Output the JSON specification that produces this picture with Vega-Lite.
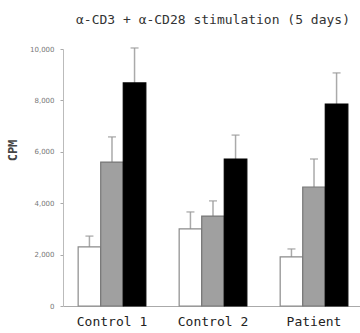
{
  "$schema": "https://vega.github.io/schema/vega-lite/v6.json",
  "autosize": "none",
  "padding": {"left": 63, "top": 49, "right": 0, "bottom": 27},
  "width": 300,
  "height": 257,
  "background": "white",
  "title": {
    "text": "α-CD3 + α-CD28 stimulation (5 days)",
    "font": "DejaVu Sans Mono",
    "fontSize": 13,
    "fontWeight": "normal",
    "color": "#333333",
    "anchor": "middle",
    "offset": 18
  },
  "data": {
    "values": [
      {"group": "Control 1", "cond": "a", "value": 2300, "upper": 2720},
      {"group": "Control 1", "cond": "b", "value": 5600, "upper": 6580},
      {"group": "Control 1", "cond": "c", "value": 8680, "upper": 10040},
      {"group": "Control 2", "cond": "a", "value": 3000, "upper": 3660},
      {"group": "Control 2", "cond": "b", "value": 3500, "upper": 4090},
      {"group": "Control 2", "cond": "c", "value": 5720, "upper": 6650},
      {"group": "Patient", "cond": "a", "value": 1910, "upper": 2220},
      {"group": "Patient", "cond": "b", "value": 4630, "upper": 5720},
      {"group": "Patient", "cond": "c", "value": 7860, "upper": 9070}
    ]
  },
  "encoding": {
    "x": {
      "field": "group",
      "type": "nominal",
      "sort": ["Control 1", "Control 2", "Patient"],
      "scale": {"paddingInner": 0.33, "paddingOuter": 0.15},
      "axis": {
        "title": null,
        "labelAngle": 0,
        "labelFont": "DejaVu Sans Mono",
        "labelFontSize": 13,
        "labelColor": "#222222",
        "labelPadding": 9,
        "ticks": false,
        "domainColor": "#aaaaaa"
      }
    },
    "xOffset": {
      "field": "cond",
      "type": "nominal",
      "scale": {"paddingInner": 0, "paddingOuter": 0}
    }
  },
  "layer": [
    {
      "mark": {"type": "rule", "color": "#aaaaaa", "strokeWidth": 1.5},
      "encoding": {
        "y": {"field": "value", "type": "quantitative"},
        "y2": {"field": "upper"}
      }
    },
    {
      "mark": {"type": "tick", "color": "#999999", "size": 8, "thickness": 1.5},
      "encoding": {
        "y": {"field": "upper", "type": "quantitative"}
      }
    },
    {
      "mark": {"type": "bar", "strokeWidth": 1.2},
      "encoding": {
        "y": {
          "field": "value",
          "type": "quantitative",
          "scale": {"domain": [0, 10000], "nice": false},
          "axis": {
            "values": [0, 2000, 4000, 6000, 8000, 10000],
            "format": ",d",
            "grid": false,
            "labelFont": "DejaVu Sans",
            "labelFontSize": 7,
            "labelColor": "#777777",
            "labelPadding": 6,
            "tickColor": "#aaaaaa",
            "tickSize": 3,
            "domainColor": "#bbbbbb",
            "title": "CPM",
            "titleFont": "DejaVu Sans Mono",
            "titleFontSize": 12,
            "titleFontWeight": "bold",
            "titleColor": "#444444",
            "titleX": -51,
            "titleY": 101,
            "titleAngle": -90,
            "titleAlign": "center",
            "titleBaseline": "middle"
          }
        },
        "fill": {
          "field": "cond",
          "type": "nominal",
          "scale": {"domain": ["a", "b", "c"], "range": ["#ffffff", "#a0a0a0", "#000000"]},
          "legend": null
        },
        "stroke": {
          "field": "cond",
          "type": "nominal",
          "scale": {"domain": ["a", "b", "c"], "range": ["#8a8a8a", "#777777", "#000000"]},
          "legend": null
        }
      }
    }
  ],
  "config": {"view": {"stroke": null}}
}
